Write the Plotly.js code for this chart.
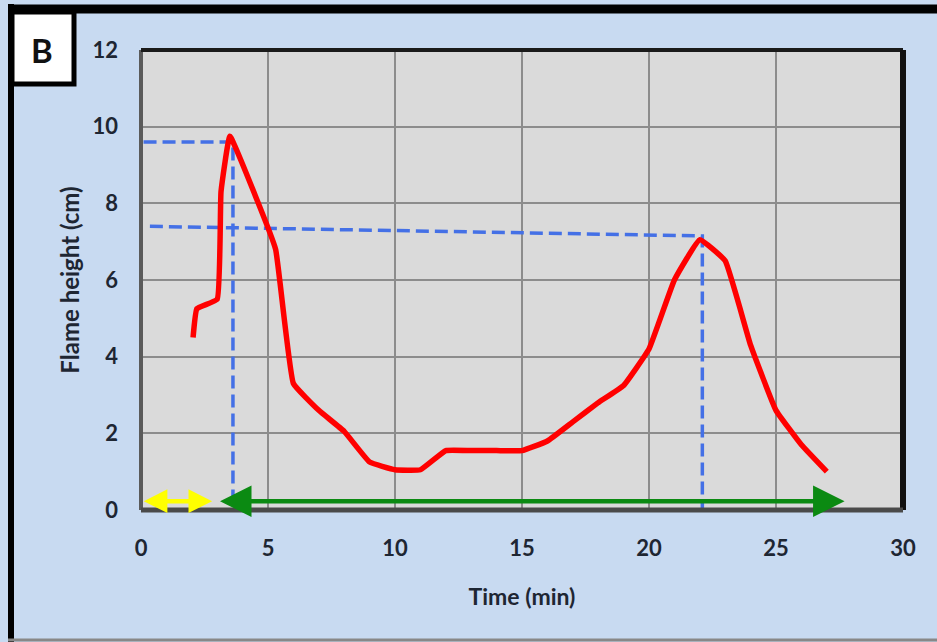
<!DOCTYPE html>
<html>
<head>
<meta charset="utf-8">
<script src="https://cdn.plot.ly/plotly-3.0.1.min.js"></script>
<style>
html,body{margin:0;padding:0;background:#c8daf1;}
#chart{width:937px;height:642px;}
</style>
</head>
<body>
<div id="chart"></div>
<script>
// Flame height curve
const timeMin = [2.05, 2.2, 3.0, 3.15, 3.5, 4.5, 5.3, 6.0, 7, 8, 9, 10, 11, 12, 13, 14, 15, 16, 17, 18, 19, 20, 21, 22, 23, 24, 25, 26, 27];
const flameCm = [4.5, 5.25, 5.5, 8.3, 9.75, 8.2, 6.8, 3.3, 2.6, 2.05, 1.25, 1.05, 1.05, 1.55, 1.55, 1.55, 1.55, 1.8, 2.3, 2.8, 3.25, 4.2, 6.0, 7.05, 6.5, 4.3, 2.6, 1.7, 1.0];

// Peak guide lines (dashed)
const peak1X = [0.1, 3.62, 3.62];
const peak1Y = [9.6, 9.6, 0];
const peak2X = [0.35, 22.1, 22.1];
const peak2Y = [7.4, 7.15, 0];

// Phase arrows (double-headed): [start x, end x] at y level
const yellowArrowX = [0.05, 2.8];
const greenArrowX = [3.05, 27.7];
const arrowY = [0.23, 0.23];

const xTicks = [0, 5, 10, 15, 20, 25, 30];
const yTicks = [0, 2, 4, 6, 8, 10, 12];

const W = 937, H = 642;
const M = {l: 141, r: 34, t: 50, b: 132};
const pw = W - M.l - M.r, ph = H - M.t - M.b;
const px = v => (v - M.l) / pw;
const py = v => 1 - (v - M.t) / ph;

const fontFam = 'Lato, "Open Sans", sans-serif';
const txtCol = '#1e2633';

const traces = [
  {x: peak1X, y: peak1Y, mode: 'lines', line: {color: '#4470e6', width: 3.5, dash: '13px,6px'}, hoverinfo: 'skip'},
  {x: peak2X, y: peak2Y, mode: 'lines', line: {color: '#4470e6', width: 3.5, dash: '13px,6px'}, hoverinfo: 'skip'},
  {x: timeMin, y: flameCm, mode: 'lines', line: {color: '#ff0000', width: 5.5, shape: 'spline', smoothing: 0.3}}
];

function dblArrow(xs, ys, color, size) {
  return {
    x: xs[1], y: ys[1], ax: xs[0], ay: ys[0],
    xref: 'x', yref: 'y', axref: 'x', ayref: 'y',
    showarrow: true, arrowside: 'end+start', arrowhead: 2, startarrowhead: 2,
    arrowsize: size, startarrowsize: size, arrowwidth: 4.5, arrowcolor: color,
    standoff: 0, startstandoff: 0, text: ''
  };
}

const shapes = [
  // outer frame
  {type: 'line', xref: 'paper', yref: 'paper', x0: px(11), x1: px(11), y0: py(4), y1: py(642), line: {color: '#000', width: 6}},
  {type: 'line', xref: 'paper', yref: 'paper', x0: px(8), x1: px(937), y0: py(9), y1: py(9), line: {color: '#000', width: 9}},
  {type: 'line', xref: 'paper', yref: 'paper', x0: px(8), x1: px(937), y0: py(640), y1: py(640), line: {color: '#888', width: 3}},
  // B label box
  {type: 'rect', xref: 'paper', yref: 'paper', x0: px(12), x1: px(74), y0: py(84), y1: py(12), fillcolor: '#ffffff', line: {color: '#000', width: 5}},
  // plot border
  {type: 'line', xref: 'paper', yref: 'paper', x0: 0, x1: 0, y0: 0, y1: 1, line: {color: '#5a5a5a', width: 4}},
  {type: 'line', xref: 'paper', yref: 'paper', x0: 0, x1: 1, y0: 1, y1: 1, line: {color: '#1a1a1a', width: 4}},
  {type: 'line', xref: 'paper', yref: 'paper', x0: 1, x1: 1, y0: 0, y1: 1, line: {color: '#111', width: 6}},
  {type: 'line', xref: 'paper', yref: 'paper', x0: 0, x1: 1, y0: 0, y1: 0, line: {color: '#4a4a4a', width: 5}}
];

const layout = {
  width: W, height: H,
  margin: M,
  paper_bgcolor: '#c8daf1',
  plot_bgcolor: '#dadada',
  showlegend: false,
  font: {family: fontFam, color: txtCol},
  xaxis: {
    range: [0, 30], tickvals: xTicks, ticktext: xTicks.map(String),
    showgrid: true, gridcolor: '#8c8c8c', gridwidth: 2, zeroline: false,
    showline: false, ticks: '', ticklabelstandoff: 23,
    tickfont: {family: fontFam, size: 22, weight: 'bold', color: txtCol},
    title: {text: 'Time (min)', standoff: 28, font: {family: fontFam, size: 23, weight: 'bold', color: txtCol}}
  },
  yaxis: {
    range: [0, 12], tickvals: yTicks, ticktext: yTicks.map(String),
    showgrid: true, gridcolor: '#8c8c8c', gridwidth: 2, zeroline: false,
    showline: false, ticks: '', ticklabelstandoff: 22,
    tickfont: {family: fontFam, size: 22, weight: 'bold', color: txtCol},
    title: {text: 'Flame height (cm)', standoff: 6, font: {family: fontFam, size: 24, weight: 'bold', color: txtCol}}
  },
  shapes: shapes,
  annotations: [
    dblArrow(yellowArrowX, arrowY, '#ffff00', 1.05),
    dblArrow(greenArrowX, arrowY, '#0b8a12', 1.4),
    {xref: 'paper', yref: 'paper', x: px(42), y: py(50), xanchor: 'center', yanchor: 'middle', text: 'B', showarrow: false,
     font: {family: fontFam, size: 33, weight: 'bold', color: '#111'}}
  ]
};

Plotly.newPlot('chart', traces, layout, {displayModeBar: false, staticPlot: true});
</script>
</body>
</html>
